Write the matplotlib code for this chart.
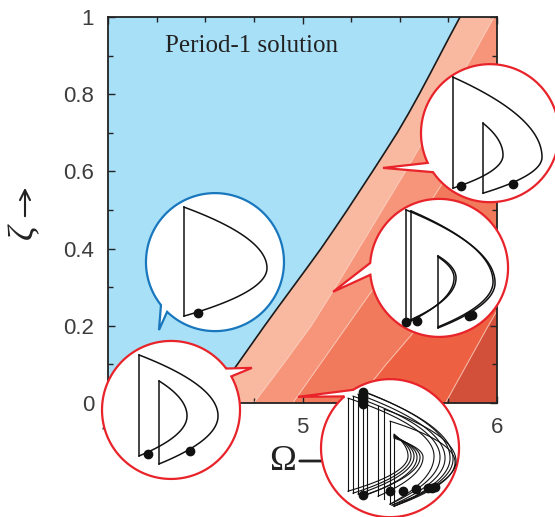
import numpy as np
import matplotlib.pyplot as plt
from matplotlib.patches import Polygon

W, H = 555, 517

# region boundaries: zeta knots -> Omega of the boundary
ZETA_P1 = [0.0, 0.05, 0.1, 0.15, 0.2, 0.25, 0.3, 0.35, 0.4, 0.45, 0.5,
           0.55, 0.6, 0.65, 0.7, 0.75, 0.8, 0.85, 0.9, 0.95, 1.0]
OMEGA_P1 = [4.52, 4.595, 4.665, 4.735, 4.805, 4.877, 4.95, 5.023, 5.095, 5.163, 5.23,
            5.295, 5.36, 5.424, 5.487, 5.545, 5.60, 5.653, 5.705, 5.757, 5.81]
ZETA_B = [0.0, 0.1, 0.2, 0.3, 0.4, 0.5, 0.6, 0.7, 0.8, 0.9, 1.0]
OMEGA_B2 = [4.75, 4.90, 5.045, 5.17, 5.29, 5.41, 5.53, 5.645, 5.76, 5.875, 5.985]
OMEGA_B3 = [4.95, 5.09, 5.23, 5.37, 5.50, 5.63, 5.76, 5.88, 6.00, 6.12, 6.24]
OMEGA_B4 = [5.27, 5.43, 5.60, 5.76, 5.92, 6.08, 6.24, 6.40, 6.56, 6.72, 6.88]
OMEGA_B5 = [5.735, 5.845, 5.955, 6.07, 6.18, 6.29, 6.40, 6.51, 6.62, 6.73, 6.84]
BAND_COLORS = ['#f9b9a0', '#f6957a', '#f27a5c', '#ee6042', '#d2503a']
P1_COLOR = '#a8e0f8'

# speech bubbles: centre and tail tip in (Omega, zeta), tail base angles (deg)
BUBBLE_CENTERS = [(4.550, 0.365), (4.324, -0.018), (5.964, 0.699), (5.702, 0.350), (5.450, -0.117)]
BUBBLE_TIPS = [(4.262, 0.189), (4.740, 0.091), (5.414, 0.609), (5.157, 0.288), (4.977, 0.016)]
TAIL_ANGLES = [(218.5, 226.1), (29.1, 36.9), (205.5, 214.4), (175.9, 185.7), (122.3, 131.4)]
BUBBLE_COLORS = ['#1877bd', '#e8232a', '#e8232a', '#e8232a', '#e8232a']
R = 69

# phase portraits inside the bubbles, px offsets from the centre (y down)
# vertical impact lines: (x, y_top, y_bottom)
VERTS = [
    [(-31, -55, 54)],
    [(-32, -55, 46), (-12, -29, 54)],
    [(-37, -56, 55), (-7, -10, 60)],
    [(-33, -58, 54), (-28, -57, 53), (-1, -12, 60)],
    [(-42, -50, 43), (-37, -52, 45), (-32, -54, 46), (-27, -57, 48), (-23, -55, 46),
     (-12, -42, 48), (-6, -39, 51), (0, -27, 56), (4, -14, 58)],
]
# free flight arcs: (start, rightmost point, end)
ARCS = [
    [((-31, -55), (52, 6), (-31, 54))],
    [((-32, -55), (47, 6), (-12, 54)), ((-12, -29), (16, 6), (-32, 46))],
    [((-37, -56), (52, 24), (-7, 60)), ((-7, -10), (13, 22), (-37, 55))],
    [((-33, -58), (56, 15), (-1, 60)), ((-28, -57), (54, 14), (-1, 59)),
     ((-1, -12), (17, 10), (-33, 54)), ((-1, -11), (15, 10), (-28, 53))],
    [((-42, -50), (44, 8), (0, 56)), ((-37, -52), (50, 9), (0, 56)),
     ((-32, -54), (55, 10), (2, 57)), ((-27, -57), (60, 10), (4, 58)),
     ((-23, -55), (63, 11), (4, 58)), ((-6, -39), (66, 13), (2, 57)),
     ((0, -27), (65, 14), (4, 58)),
     ((4, -14), (18, 8), (-42, 43)), ((4, -13), (21, 8), (-37, 45)),
     ((4, -12), (24, 8), (-32, 46)), ((4, -12), (27, 9), (-27, 48)),
     ((4, -11), (30, 9), (-23, 46)), ((4, -10), (33, 9), (-12, 48))],
]
DOTS = [
    [(-17, 51)],
    [(-23, 44), (19, 41)],
    [(-29, 53), (23, 51)],
    [(-33, 54), (-22, 53), (30, 48), (33, 47)],
    [(-27, -56), (-27, -52), (-27, -48), (-27, -44), (-27, 47), (0, 43), (13, 43),
     (26, 41), (38, 40), (42, 40), (45, 39)],
]


def d_arc(p0, pr, p1, n=50):
    # parabolic flight arc from p0 through the rightmost point pr to p1
    ya = np.linspace(p0[1], pr[1], n)
    xa = pr[0] - (pr[0] - p0[0]) * ((ya - pr[1]) / (p0[1] - pr[1])) ** 2
    yb = np.linspace(pr[1], p1[1], n)
    xb = pr[0] - (pr[0] - p1[0]) * ((yb - pr[1]) / (p1[1] - pr[1])) ** 2
    return np.concatenate([xa, xb]), np.concatenate([ya, yb])


fig = plt.figure(figsize=(W / 100, H / 100), dpi=100)
ax = fig.add_axes([108 / W, (H - 403) / H, (497 - 108) / W, (403 - 17) / H])
ax.set_xlim(4, 6)
ax.set_ylim(0, 1)

# regions
ax.fill(np.concatenate([[4, 4], OMEGA_P1[::-1]]),
        np.concatenate([[0, 1], ZETA_P1[::-1]]), color=P1_COLOR, lw=0)
bounds = [(ZETA_P1, OMEGA_P1), (ZETA_B, OMEGA_B2), (ZETA_B, OMEGA_B3),
          (ZETA_B, OMEGA_B4), (ZETA_B, OMEGA_B5), ([0, 1], [7.5, 7.5])]
for k, col in enumerate(BAND_COLORS):
    zl, ol = bounds[k]
    zr, orr = bounds[k + 1]
    ax.fill(np.concatenate([ol, orr[::-1]]), np.concatenate([zl, zr[::-1]]),
            color=col, lw=0)
for zb, ob in bounds[1:5]:
    ax.plot(ob, zb, color='#fbd0c0', lw=0.8, alpha=0.7)
ax.plot(OMEGA_P1, ZETA_P1, color='#1a1a1a', lw=1.2)

ax.text(4.293, 0.909, 'Period-1 solution', family='Liberation Serif', fontsize=18,
        color='#222222', va='baseline')

# axes styling
ax.set_xticks([4, 5, 6])
ax.set_xticks(np.arange(4, 6.01, 0.25), minor=True)
ax.set_yticks([0, 0.2, 0.4, 0.6, 0.8, 1.0])
ax.set_yticklabels(['0', '0.2', '0.4', '0.6', '0.8', '1'])
ax.set_yticks(np.arange(0, 1.01, 0.1), minor=True)
ax.tick_params(which='both', direction='in', top=True, right=True, width=1,
               color='#222222')
ax.tick_params(which='major', length=5, pad=10, labelsize=16, labelcolor='#3d3d3d')
ax.tick_params(which='minor', length=3.5)
for lab in ax.get_xticklabels() + ax.get_yticklabels():
    lab.set_family('Liberation Sans')
for sp in ax.spines.values():
    sp.set_color('#222222')
    sp.set_linewidth(1.3)

# axis labels with arrows (pixel positions, under the bubbles)
ax.annotate('Ω', xy=(283, H - 461), xycoords='figure pixels', ha='center', va='center',
            fontsize=26, family='Liberation Serif', color='#222222', annotation_clip=False)
ax.annotate('', xy=(345, H - 461), xytext=(297, H - 461), xycoords='figure pixels',
            arrowprops=dict(arrowstyle='->', lw=2, color='#222222'), annotation_clip=False)
ax.annotate('ζ', xy=(25, H - 232), xycoords='figure pixels', ha='center', va='center',
            rotation=90, fontsize=26, family='Liberation Serif', style='italic',
            color='#222222', annotation_clip=False)
ax.annotate('', xy=(25, H - 185), xytext=(25, H - 219), xycoords='figure pixels',
            arrowprops=dict(arrowstyle='->', lw=1.5, color='#222222',
                            mutation_scale=18), annotation_clip=False)

# bubbles on top, in pixel coordinates
ov = fig.add_axes([0, 0, 1, 1], zorder=5)
ov.set_xlim(0, W)
ov.set_ylim(0, H)
ov.axis('off')
ov.patch.set_alpha(0)

for i in range(len(BUBBLE_CENTERS)):
    cx, cy = ax.transData.transform(BUBBLE_CENTERS[i])
    tx, ty = ax.transData.transform(BUBBLE_TIPS[i])
    a_lo, a_hi = TAIL_ANGLES[i]
    th = np.radians(np.linspace(a_hi, a_lo + 360, 400))
    xs = np.append(cx + R * np.cos(th), tx)
    ys = np.append(cy + R * np.sin(th), ty)
    ov.add_patch(Polygon(np.column_stack([xs, ys]), closed=True, facecolor='white',
                         edgecolor=BUBBLE_COLORS[i], lw=1.6, joinstyle='miter'))
    thin = i == 4
    for x, y0, y1 in VERTS[i]:
        ov.plot([cx + x, cx + x], [cy - y0, cy - y1], color='#111111',
                lw=0.8 if thin else 1.1)
    for p0, pr, p1 in ARCS[i]:
        ax_, ay_ = d_arc(p0, pr, p1)
        ov.plot(cx + ax_, cy - ay_, color='#111111', lw=0.8 if thin else 1.1)
    for x, y in DOTS[i]:
        ov.plot(cx + x, cy - y, 'o', color='#111111', ms=6)

fig.savefig('out.png', dpi=100)
